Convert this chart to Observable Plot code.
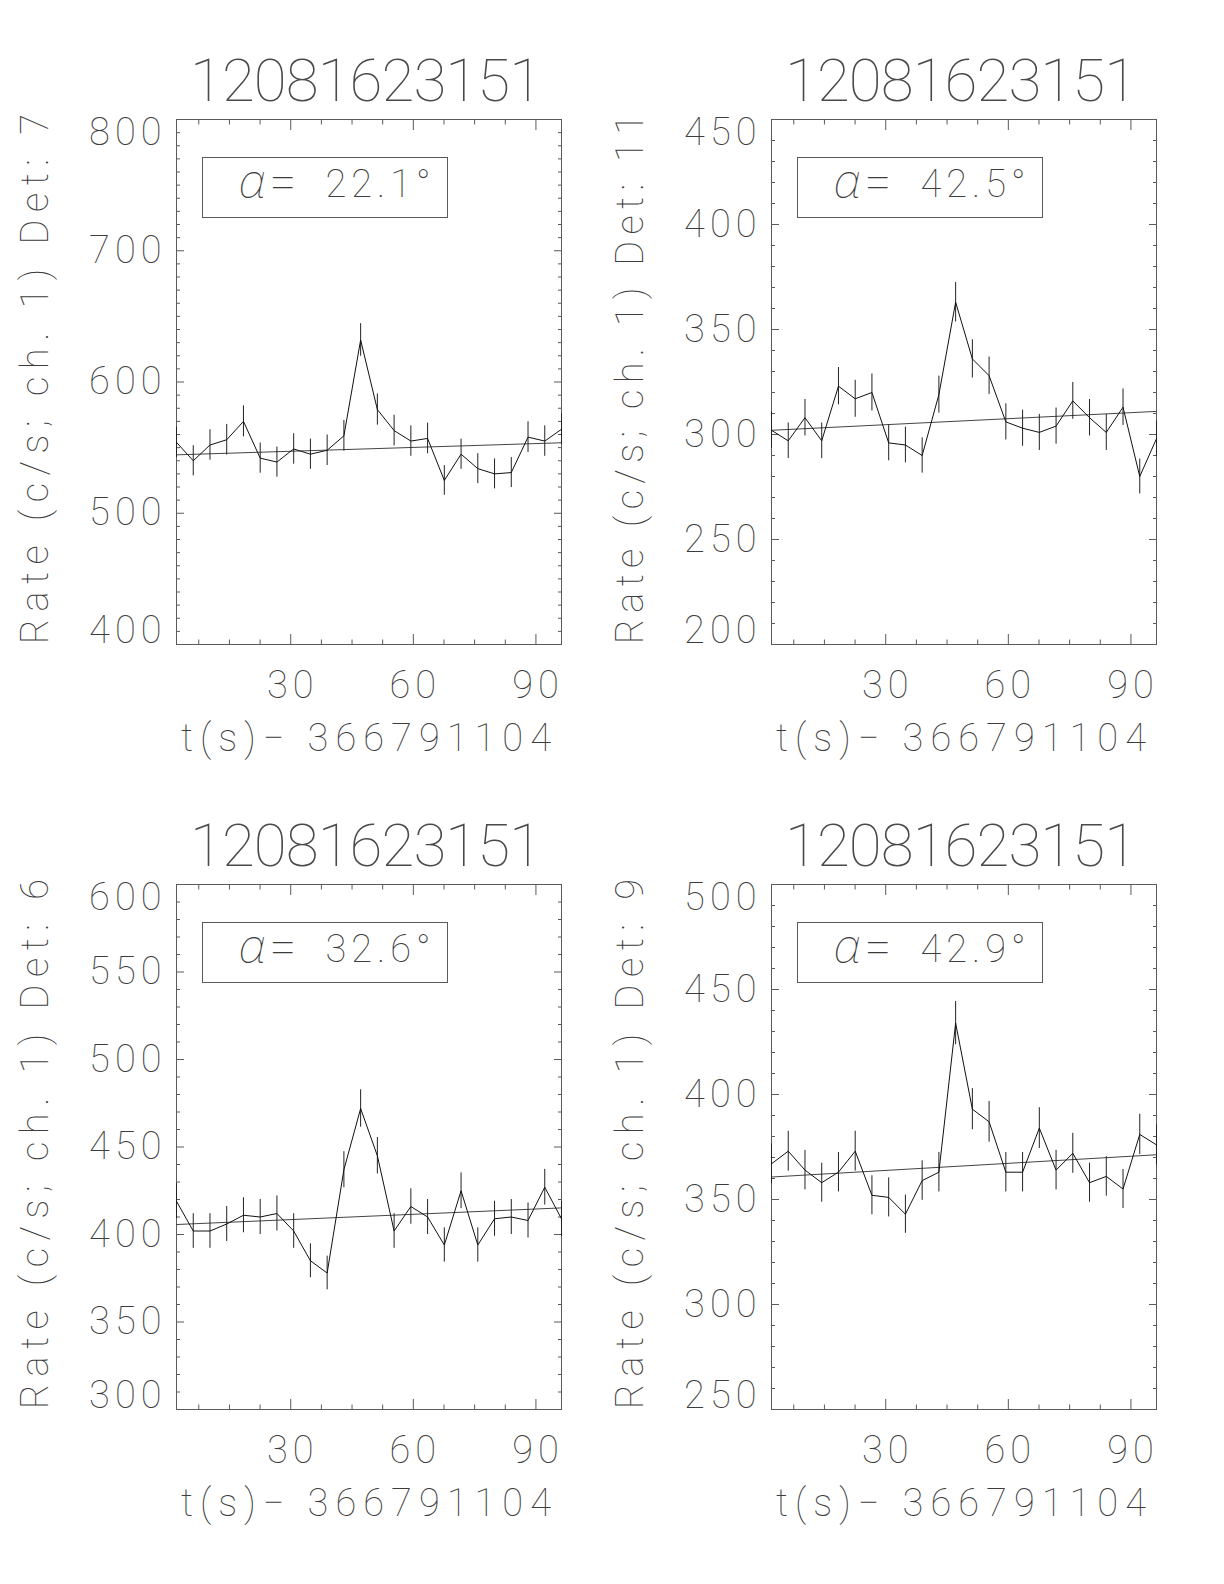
<!DOCTYPE html>
<html>
<head>
<meta charset="utf-8">
<script src="https://cdn.jsdelivr.net/npm/d3@7"></script>
<script src="https://cdn.jsdelivr.net/npm/@observablehq/plot@0.6"></script>
<style>
  html, body { margin: 0; padding: 0; background: #fff; }
  #wrap { position: relative; width: 1224px; height: 1584px; background: #fff; overflow: hidden; }
  #wrap svg { position: absolute; overflow: visible; }
</style>
</head>
<body>
<div id="wrap"></div>
<script>
// ---------- data ----------
const times = [2.048, 6.144, 10.24, 14.336, 18.432, 22.528, 26.624, 30.72, 34.816, 38.912, 43.008, 47.104,
               51.2, 55.296, 59.392, 63.488, 67.584, 71.68, 75.776, 79.872, 83.968, 88.064, 92.16, 96.256];
const plotTitle = "12081623151";
const xLabel = "t(s)\u2212 366791104";
const xMajorTicks = [30, 60, 90];
const xMinorTicks = [7.5, 15, 22.5, 37.5, 45, 52.5, 67.5, 75, 82.5];

const detectors = [7, 11, 6, 9];
const angles = ["22.1", "42.5", "32.6", "42.9"];

const rateDet7  = [554, 540, 552, 556, 570, 542, 539, 549, 545, 548, 559, 632, 579, 563, 555, 557, 525, 545, 534, 530, 531, 558, 555, 564];
const errDet7   = [11.6, 11.5, 11.6, 11.7, 11.8, 11.5, 11.5, 11.6, 11.5, 11.6, 11.7, 12.4, 11.9, 11.7, 11.6, 11.7, 11.3, 11.5, 11.4, 11.4, 11.4, 11.7, 11.6, 11.7];
const fitDet7   = [544.5, 553.7];

const rateDet11 = [302, 297, 308, 297, 323, 317, 320, 296, 295, 290, 319, 363, 336, 328, 306, 303, 301, 304, 316, 308, 301, 313, 280, 298];
const errDet11  = [8.6, 8.5, 8.7, 8.5, 8.9, 8.8, 8.8, 8.5, 8.5, 8.4, 8.8, 9.4, 9.1, 8.9, 8.6, 8.6, 8.6, 8.6, 8.8, 8.7, 8.6, 8.7, 8.3, 8.5];
const fitDet11  = [302, 311];

const rateDet6  = [419, 402, 402, 406, 411, 410, 412, 402, 385, 378, 437, 472, 445, 402, 416, 410, 394, 425, 394, 409, 410, 408, 427, 409];
const errDet6   = [10.1, 9.9, 9.9, 10.0, 10.0, 10.0, 10.0, 9.9, 9.7, 9.6, 10.3, 10.7, 10.4, 9.9, 10.1, 10.0, 9.8, 10.2, 9.8, 10.0, 10.0, 10.0, 10.2, 10.0];
const fitDet6   = [405.7, 415.2];

const rateDet9  = [367, 373, 364, 358, 363, 373, 352, 351, 343, 359, 363, 434, 393, 387, 363, 363, 384, 364, 372, 358, 361, 355, 381, 376];
const errDet9   = [9.5, 9.5, 9.4, 9.3, 9.4, 9.5, 9.3, 9.3, 9.1, 9.4, 9.4, 10.3, 9.8, 9.7, 9.4, 9.4, 9.7, 9.4, 9.5, 9.3, 9.4, 9.3, 9.6, 9.6];
const fitDet9   = [360.7, 371.3];

const yDomains = [[400, 800], [200, 450], [300, 600], [250, 500]];
const yMajorTicks = [
  [400, 500, 600, 700, 800],
  [200, 250, 300, 350, 400, 450],
  [300, 350, 400, 450, 500, 550, 600],
  [250, 300, 350, 400, 450, 500]
];
const yMinorStep = 10;

const rateSeries = [rateDet7, rateDet11, rateDet6, rateDet9];
const errSeries  = [errDet7, errDet11, errDet6, errDet9];
const fitSeries  = [fitDet7, fitDet11, fitDet6, fitDet9];

// ---------- layout / style ----------
const W = 612, H = 792;
const M = {left: 176, right: 51, top: 119, bottom: 148};
const offsets = [[0, 0], [595, 0], [0, 765], [595, 765]];
const FONT = "Roboto, 'Noto Sans', 'DejaVu Sans', sans-serif";
const INK = "#3c3c3c";
const AXIS = "#5a5a5a";
const TXT = {fontFamily: FONT, fontWeight: 100, fill: INK, fontSize: 38, lineAnchor: "middle"};

function panel(k) {
  const rates = rateSeries[k], errs = errSeries[k], fit = fitSeries[k];
  const data = times.map((t, i) => ({t, r: rates[i], lo: rates[i] - errs[i], hi: rates[i] + errs[i]}));
  const fitData = [{t: times[0], r: fit[0]}, {t: times[times.length - 1], r: fit[1]}];
  const [y0, y1] = yDomains[k];
  const major = yMajorTicks[k];
  const minor = d3.range(y0, y1 + 1e-9, yMinorStep).filter(v => !major.includes(v));
  const midLabels = major.filter(v => v !== y0 && v !== y1);
  const frameW = W - M.left - M.right, frameH = H - M.top - M.bottom;

  const axisOpts = {fill: "none", label: null, stroke: AXIS, strokeWidth: 1};

  return Plot.plot({
    width: W, height: H,
    marginLeft: M.left, marginRight: M.right, marginTop: M.top, marginBottom: M.bottom,
    x: {domain: [times[0], times[times.length - 1]]},
    y: {domain: [y0, y1]},
    style: {background: "transparent", color: INK, fontFamily: FONT},
    marks: [
      // inward ticks on all four sides
      Plot.axisX(xMajorTicks, {...axisOpts, anchor: "bottom", tickSize: -10}),
      Plot.axisX(xMinorTicks, {...axisOpts, anchor: "bottom", tickSize: -4.5}),
      Plot.axisX(xMajorTicks, {...axisOpts, anchor: "top", tickSize: -10}),
      Plot.axisX(xMinorTicks, {...axisOpts, anchor: "top", tickSize: -4.5}),
      Plot.axisY(major, {...axisOpts, anchor: "left", tickSize: -8}),
      Plot.axisY(minor, {...axisOpts, anchor: "left", tickSize: -4}),
      Plot.axisY(major, {...axisOpts, anchor: "right", tickSize: -8}),
      Plot.axisY(minor, {...axisOpts, anchor: "right", tickSize: -4}),
      Plot.frame({stroke: AXIS, strokeWidth: 1}),

      // y tick labels (end labels justified inside the axis, as IDL does)
      Plot.text(midLabels, {...TXT, y: d => d, text: d => String(d), frameAnchor: "left", textAnchor: "end", dx: -10}),
      Plot.text([y1], {...TXT, y: d => d, text: d => String(d), frameAnchor: "left", textAnchor: "end", dx: -10, dy: 13}),
      Plot.text([y0], {...TXT, y: d => d, text: d => String(d), frameAnchor: "left", textAnchor: "end", dx: -10, dy: -14}),
      // x tick labels
      Plot.text(xMajorTicks, {...TXT, x: d => d, text: d => String(d), frameAnchor: "bottom", dy: 41, dx: 2}),
      // axis titles
      Plot.text([xLabel], {...TXT, text: d => d, frameAnchor: "bottom", dy: 94.5, dx: -3}),
      Plot.text([`Rate (c/s; ch. 1) Det: ${detectors[k]}`], {...TXT, text: d => d, frameAnchor: "left", textAnchor: "middle", rotate: -90, dx: -141, dy: -3}),
      Plot.text([plotTitle], {...TXT, fill: "#4a4a4a", fontSize: 60, text: d => d, frameAnchor: "top", dy: -38, dx: -3}),

      // angle box
      Plot.frame({stroke: AXIS, strokeWidth: 1, insetLeft: 26, insetTop: 38, insetRight: frameW - 271, insetBottom: frameH - 98}),
      Plot.text(["\u03B1"], {...TXT, fontFamily: "'Noto Sans', Roboto, sans-serif", fontSize: 48, fontWeight: 100, fontStyle: "italic", text: d => d, frameAnchor: "top-left", textAnchor: "start", dx: 62, dy: 63}),
      Plot.text(["="], {...TXT, fontSize: 48, text: d => d, frameAnchor: "top-left", textAnchor: "start", dx: 93, dy: 64}),
      Plot.text([`${angles[k]}\u00B0`], {...TXT, text: d => d, frameAnchor: "top-left", textAnchor: "start", dx: 149, dy: 65}),

      // data
      Plot.line(fitData, {x: "t", y: "r", stroke: "#444", strokeWidth: 1}),
      Plot.ruleX(data, {x: "t", y1: "lo", y2: "hi", stroke: "#222", strokeWidth: 1}),
      Plot.line(data, {x: "t", y: "r", stroke: "#111", strokeWidth: 1})
    ]
  });
}

const wrap = document.getElementById("wrap");
for (let k = 0; k < 4; k++) {
  const svg = panel(k);
  svg.style.left = offsets[k][0] + "px";
  svg.style.top = offsets[k][1] + "px";
  // spacing to imitate the wide IDL vector font
  svg.querySelectorAll("text").forEach(t => {
    const s = t.textContent;
    t.style.letterSpacing = "0px";
    if (s === plotTitle) {
      t.setAttribute("textLength", 352); t.setAttribute("lengthAdjust", "spacing");
    } else if (s.startsWith("Rate")) {
      t.setAttribute("textLength", 530); t.setAttribute("lengthAdjust", "spacing");
    } else if (s === xLabel) {
      t.setAttribute("textLength", 370); t.setAttribute("lengthAdjust", "spacing");
    } else if (s === "=" || s === "\u03B1") {
      // natural spacing
    } else {
      t.style.letterSpacing = "5px";
    }
  });
  wrap.appendChild(svg);
}
</script>
</body>
</html>
